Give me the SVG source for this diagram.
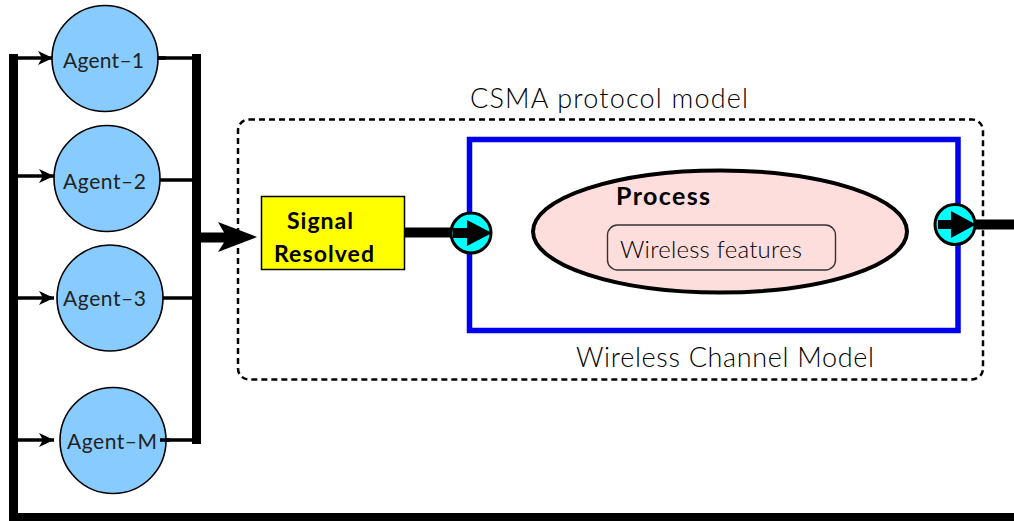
<svg xmlns="http://www.w3.org/2000/svg" width="1014" height="521" viewBox="0 0 1014 521">
<style>
text{font-family:"Lato","Noto Sans",sans-serif;fill:#000;font-weight:300}
.agent{fill:#88ccff;stroke:#000;stroke-width:1.6}
text.al{font-size:21px;fill:#222;font-weight:400}
.lab{font-size:27px}
text.b{font-weight:700;fill:#000}
.port{fill:#00ffff;stroke:#000;stroke-width:3}
.thin{stroke:#000;stroke-width:3.500;fill:none}
.bar{stroke:#000;stroke-width:9;fill:none}
</style>
<defs>
<marker id="sm" markerUnits="userSpaceOnUse" markerWidth="16" markerHeight="14" refX="15" refY="7" orient="auto"><path d="M0 0L15 7L0 14L4 7Z" fill="#000"/></marker>
</defs>
<g id="model-box"><rect x="238" y="119.500" width="745" height="260" rx="11" fill="none" stroke="#000" stroke-width="2.500" stroke-dasharray="6 4"/>
<text class="lab" x="470" y="108" textLength="278">CSMA protocol model</text></g>
<g id="channel"><rect x="469.500" y="139.500" width="488.500" height="191" fill="none" stroke="#0000ee" stroke-width="5.500"/>
<text class="lab" x="576" y="367" textLength="298">Wireless Channel Model</text></g>
<g id="process"><ellipse cx="720" cy="231.500" rx="187" ry="61" fill="#fedddd" stroke="#000" stroke-width="4"/>
<text class="b" x="616" y="205" font-size="25" textLength="94">Process</text>
<rect x="607.500" y="225" width="228" height="45" rx="10" fill="none" stroke="#333" stroke-width="1.400"/>
<text x="620" y="258" font-size="24" textLength="182">Wireless features</text></g>
<g id="connectors">
<path class="bar" d="M13.500 54V517.500H1014"/>
<path class="bar" d="M196.500 54V444"/>
<path class="thin" d="M18 58H53" marker-end="url(#sm)"/>
<path class="thin" d="M18 176H54" marker-end="url(#sm)"/>
<path class="thin" d="M18 298H54" marker-end="url(#sm)"/>
<path class="thin" d="M18 440H54" marker-end="url(#sm)"/>
<path class="thin" d="M160 180H192M162 298H192M161 440H192M157 58H192"/>
<path d="M201 232.500H224L218 222L257 237L218 252L224 242.500H201Z" fill="#000"/>
<path d="M404 232.500H452" stroke="#000" stroke-width="10"/>
<path d="M976 224.500H1014" stroke="#000" stroke-width="10"/>
</g>
<g id="agent-1"><circle class="agent" cx="105" cy="58.500" r="53"/><text class="al" x="63" y="68" textLength="81">Agent–1</text></g>
<g id="agent-2"><circle class="agent" cx="107" cy="178.500" r="53"/><text class="al" x="63" y="189" textLength="83">Agent–2</text></g>
<g id="agent-3"><circle class="agent" cx="110" cy="298" r="53"/><text class="al" x="63" y="306" textLength="83">Agent–3</text></g>
<g id="agent-m"><circle class="agent" cx="113" cy="440.500" r="53"/><text class="al" x="67" y="449" textLength="90">Agent–M</text></g>
<g id="connector-stubs"><path d="M157 58H166M160 440H170" stroke="#000" stroke-width="3.500"/></g>
<g id="signal"><rect x="261.500" y="196.500" width="143" height="73" fill="#ffff00" stroke="#000" stroke-width="1.500"/>
<text class="b" x="287" y="229" font-size="23" textLength="66">Signal</text>
<text class="b" x="274" y="262" font-size="23" textLength="100">Resolved</text></g>
<g id="port-in"><circle class="port" cx="471" cy="233" r="20"/><path d="M453 228H467V220L492 233L467 246V238H453Z" fill="#000"/></g>
<g id="port-out"><circle class="port" cx="955" cy="224.500" r="20"/><path d="M938 220H951V211L976 224.500L951 238V229H938Z" fill="#000"/></g>
</svg>
